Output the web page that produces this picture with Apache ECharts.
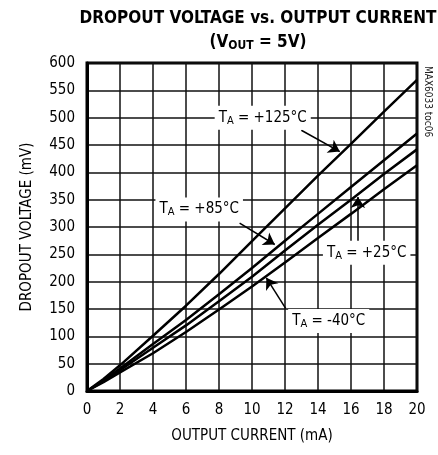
<!DOCTYPE html>
<html>
<head>
<meta charset="utf-8">
<script src="https://cdn.jsdelivr.net/npm/echarts@6/dist/echarts.min.js"></script>
<style>
  html, body { margin: 0; padding: 0; background: #fff; }
  #chart { width: 438px; height: 455px; }
</style>
</head>
<body>
<div id="chart"></div>
<script>
// output current (mA)
const current = [0, 1, 2, 4, 6, 8, 10, 12, 14, 16, 18, 20];
// dropout voltage (mV) per ambient temperature
const t125 = [0, 22, 47, 101, 156, 214, 274, 334, 394, 452, 511, 569];
const t85 = [0, 19, 41, 86, 130, 177, 225, 275, 324, 373, 422, 471];
const t25 = [0, 18, 38, 79, 120, 164, 209, 257, 304, 350, 397, 442];
const tm40 = [0, 16, 34, 69, 108, 149, 191, 235, 280, 324, 369, 413];

const xTicks = [0, 2, 4, 6, 8, 10, 12, 14, 16, 18, 20];
const yTicks = [0, 50, 100, 150, 200, 250, 300, 350, 400, 450, 500, 550, 600];

// curve labels: text after "TA = ", and its place in data units
const labelNames = ['+125°C', '+85°C', '+25°C', '-40°C'];
const labelPos = [[10.65, 500], [6.8, 332], [16.95, 253], [14.65, 128]];
// arrows: from, to
const arrows = [
  [[12.99, 477], [15.32, 438]],
  [[9.25, 307], [11.38, 268]],
  [[16.42, 270], [16.42, 355]],
  [[12.04, 151], [10.87, 207]]
];

const font = "'Liberation Sans Narrow', 'DejaVu Sans Condensed', sans-serif";

const pair = (ys) => current.map((x, i) => [x, ys[i]]);

const curve = (ys) => ({
  type: 'line',
  data: pair(ys),
  symbol: 'none',
  lineStyle: { color: '#000', width: 2.5 },
  z: 3
});

const chart = echarts.init(document.getElementById('chart'), null, { renderer: 'canvas' });

chart.setOption({
  animation: false,
  backgroundColor: '#fff',
  title: {
    text: 'DROPOUT VOLTAGE vs. OUTPUT CURRENT\n{p|(V}{s|OUT}{p| = 5V)}',
    left: 253,
    top: 2,
    textAlign: 'center',
    textStyle: {
      fontFamily: font,
      fontWeight: 'bold',
      fontSize: 17,
      color: '#000',
      lineHeight: 24,
      rich: {
        p: { fontFamily: font, fontWeight: 'bold', fontSize: 17, color: '#000', lineHeight: 24 },
        s: { fontFamily: font, fontWeight: 'bold', fontSize: 12, color: '#000', lineHeight: 24, padding: [6, 0, 0, 0] }
      }
    }
  },
  grid: {
    left: 87, top: 63, right: 21, bottom: 64,
    show: true, borderColor: '#000', borderWidth: 3
  },
  xAxis: {
    type: 'value', min: 0, max: 20, interval: 2,
    name: 'OUTPUT CURRENT (mA)',
    nameLocation: 'middle', nameGap: 38,
    nameTextStyle: { fontFamily: font, fontSize: 15, color: '#000' },
    axisLine: { show: true, lineStyle: { color: '#000', width: 3 } },
    axisTick: { show: false },
    axisLabel: { fontFamily: font, fontSize: 15, color: '#000', margin: 12,
      formatter: (v) => xTicks.includes(v) ? String(v) : '' },
    splitLine: { show: true, lineStyle: { color: '#111', width: 1.5 } }
  },
  yAxis: {
    type: 'value', min: 0, max: 600, interval: 50,
    name: 'DROPOUT VOLTAGE (mV)',
    nameLocation: 'middle', nameGap: 52,
    nameTextStyle: { fontFamily: font, fontSize: 15, color: '#000' },
    axisLine: { show: true, lineStyle: { color: '#000', width: 3 } },
    axisTick: { show: false },
    axisLabel: { fontFamily: font, fontSize: 15, color: '#000', margin: 12,
      formatter: (v) => yTicks.includes(v) ? String(v) : '' },
    splitLine: { show: true, lineStyle: { color: '#111', width: 1.5 } }
  },
  graphic: [{
    type: 'text',
    left: 423, top: 66,
    rotation: -Math.PI / 2,
    originX: 0, originY: 0,
    style: { text: 'MAX6033 toc06', fontFamily: font, fontSize: 10, fill: '#222' }
  }],
  series: [
    curve(t125), curve(t85), curve(t25), curve(tm40),
    {
      type: 'lines',
      coordinateSystem: 'cartesian2d',
      symbol: ['none', 'arrow'],
      symbolSize: 11,
      lineStyle: { color: '#000', width: 1.5, opacity: 1 },
      data: arrows.map((a) => ({ coords: a })),
      z: 4
    },
    {
      type: 'scatter',
      symbolSize: 0,
      itemStyle: { opacity: 1 },
      data: labelPos.map((p, i) => ({ value: p, name: labelNames[i] })),
      label: {
        show: true,
        position: 'inside',
        color: '#000',
        opacity: 1,
        formatter: (p) => '{t|T}{s|A}{t| = ' + p.name + '}',
        backgroundColor: '#fff',
        padding: [3, 4, 3, 4],
        rich: {
          t: { fontFamily: font, fontSize: 15, color: '#000', lineHeight: 18 },
          s: { fontFamily: font, fontSize: 11, color: '#000', lineHeight: 18, padding: [6, 0, 0, 0] }
        }
      },
      emphasis: { disabled: true },
      z: 5
    }
  ]
});
</script>
</body>
</html>
